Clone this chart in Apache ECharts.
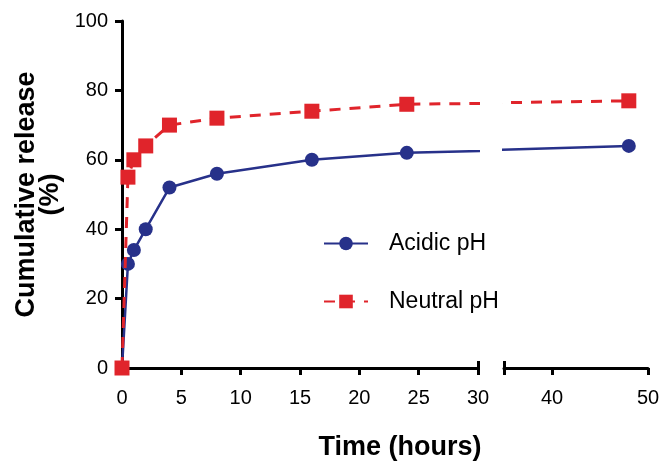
<!DOCTYPE html>
<html>
<head>
<meta charset="utf-8">
<script src="https://cdn.jsdelivr.net/npm/echarts@6/dist/echarts.min.js"></script>
<style>html,body{margin:0;padding:0;background:#fff}#c{width:670px;height:468px}</style>
</head>
<body>
<div id="c"></div>
<script>
const timeHours = [0, 0.5, 1, 2, 4, 8, 16, 24, 48];
const acidicPH = [0, 30, 34, 40, 52, 56, 60, 62, 64];
const neutralPH = [0, 55, 60, 64, 70, 72, 74, 76, 77];
const seriesNames = ['Acidic pH', 'Neutral pH'];
const yTicks = [0, 20, 40, 60, 80, 100];
const xTicksLeft = [0, 5, 10, 15, 20, 25, 30];
const xTicksRight = [40, 50];
const xAxisTitle = 'Time (hours)';
const yAxisTitle = 'Cumulative release\n(%)';

const BLUE = '#27318a';
const RED = '#e0242b';
const FONT = 'Liberation Sans, Arial, sans-serif';

const pairs = (ys) => timeHours.map((t, i) => [t, ys[i]]);

const chart = echarts.init(document.getElementById('c'), null, {renderer: 'canvas'});

const axisLineStyle = {color: '#000', width: 3};
const gridTop = 21, gridBottom = 100;

function mkSeries(gi) {
  return [
    {
      name: seriesNames[0], type: 'line', xAxisIndex: gi, yAxisIndex: gi,
      data: pairs(acidicPH), clip: true, symbol: 'circle', symbolSize: 14,
      itemStyle: {color: BLUE}, lineStyle: {color: BLUE, width: 2.5},
      z: 3
    },
    {
      name: seriesNames[1], type: 'line', xAxisIndex: gi, yAxisIndex: gi,
      data: pairs(neutralPH), clip: true, symbol: 'rect', symbolSize: 15,
      itemStyle: {color: RED}, lineStyle: {color: RED, width: 3, type: [11, 9]},
      z: 4
    }
  ];
}

const option = {
  animation: false,
  backgroundColor: '#fff',
  grid: [
    {left: 122, right: 192, top: gridTop, bottom: gridBottom, containLabel: false},
    {left: 504, right: 22, top: gridTop, bottom: gridBottom, containLabel: false}
  ],
  xAxis: [
    {
      type: 'value', gridIndex: 0, min: 0, max: 30, interval: 5,
      axisLine: {show: true, onZero: false, lineStyle: axisLineStyle},
      axisTick: {show: true, length: 7, lineStyle: {color: '#000', width: 3}, customValues: xTicksLeft},
      axisLabel: {color: '#000', fontSize: 20, fontFamily: FONT, margin: 20, customValues: xTicksLeft},
      splitLine: {show: false}
    },
    {
      type: 'value', gridIndex: 1, min: 35, max: 50,
      axisLine: {show: true, onZero: false, lineStyle: axisLineStyle},
      axisTick: {show: true, length: 7, lineStyle: {color: '#000', width: 3}, customValues: [35].concat(xTicksRight)},
      axisLabel: {color: '#000', fontSize: 20, fontFamily: FONT, margin: 20, customValues: xTicksRight},
      splitLine: {show: false}
    },
    {
      type: 'value', gridIndex: 0, min: 0, max: 30, position: 'bottom',
      axisLine: {show: false},
      axisTick: {show: true, inside: true, length: 7, lineStyle: {color: '#000', width: 3}, customValues: [30]},
      axisLabel: {show: false},
      splitLine: {show: false}
    },
    {
      type: 'value', gridIndex: 1, min: 35, max: 50, position: 'bottom',
      axisLine: {show: false},
      axisTick: {show: true, inside: true, length: 7, lineStyle: {color: '#000', width: 3}, customValues: [35]},
      axisLabel: {show: false},
      splitLine: {show: false}
    }
  ],
  yAxis: [
    {
      type: 'value', gridIndex: 0, min: 0, max: 100, interval: 20,
      axisLine: {show: true, onZero: false, lineStyle: axisLineStyle},
      axisTick: {show: true, length: 7, lineStyle: {color: '#000', width: 3}},
      axisLabel: {color: '#000', fontSize: 20, fontFamily: FONT, margin: 14, customValues: yTicks},
      splitLine: {show: false},
      name: yAxisTitle, nameLocation: 'middle', nameRotate: 90, nameGap: 51,
      nameTextStyle: {color: '#000', fontSize: 27, fontWeight: 'bold', fontFamily: FONT, lineHeight: 24, align: 'center'}
    },
    {
      type: 'value', gridIndex: 1, min: 0, max: 100, show: false
    }
  ],
  legend: {
    orient: 'vertical', left: 318, top: 227, itemWidth: 44, itemHeight: 17, itemGap: 35,
    data: seriesNames,
    textStyle: {color: '#000', fontSize: 23, fontFamily: FONT, padding: [0, 0, 0, 16]}
  },
  graphic: [
    {
      type: 'text', x: 400, y: 448,
      style: {text: xAxisTitle, fill: '#000', font: 'bold 27px ' + FONT, textAlign: 'center', textVerticalAlign: 'middle'}
    }
  ],
  series: mkSeries(0).concat(mkSeries(1))
};
option.series[2].xAxisIndex = 1; option.series[2].yAxisIndex = 1;
option.series[3].xAxisIndex = 1; option.series[3].yAxisIndex = 1;
chart.setOption(option);
</script>
</body>
</html>
